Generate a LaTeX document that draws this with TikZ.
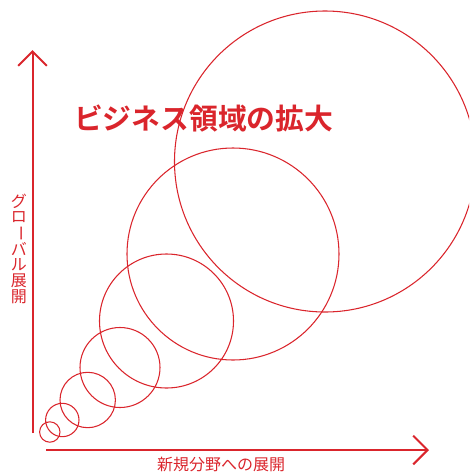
\documentclass[tikz,border=0pt]{standalone}
\usepackage{fontspec}
\newfontfamily\jp{Noto Sans CJK JP}
\newfontfamily\jpb{Noto Sans CJK JP Bold}
\usetikzlibrary{arrows.meta}
\definecolor{rd}{RGB}{218,37,44}
\tikzset{
  axis/.style={draw=rd, line width=1.5pt, -{Straight Barb[length=10.8pt,width=21.6pt,line width=1.5pt]}},
  ring/.style={draw=rd, line width=0.8pt},
  lbl/.style={text=rd, font=\jp\fontsize{12pt}{12pt}\selectfont, inner sep=0pt},
  ttl/.style={text=rd, font=\jpb\fontsize{21.6pt}{21.6pt}\selectfont, inner sep=0pt}
}
\begin{document}
\begin{tikzpicture}[x=0.75pt,y=-0.75pt]
\useasboundingbox (0,0) rectangle (469,472);
\clip (0,0) rectangle (469,472);
% circles
\draw[ring] (325,161.5) circle (150.5);
\draw[ring] (233,254) circle (106);
\draw[ring] (166.5,321) circle (67);
\draw[ring] (120,367.5) circle (40);
\draw[ring] (87.7,400) circle (27.7);
\draw[ring] (62.3,420) circle (16.7);
\draw[ring] (49.8,432) circle (10.2);
% axes
\coordinate (ybot) at (32.5,433);
\coordinate (ytip) at (32.5,50);
\coordinate (xl) at (46,450);
\coordinate (xtip) at (429,450);
\draw[axis] (ybot) -- (ytip);
\draw[axis] (xl) -- (xtip);
% texts
\node[ttl] (title) at (203.7,119) {ビジネス領域の拡大};
\node[lbl] (xlab) at (221,464) {新規分野への展開};
\node[lbl] (v1) at (19,201) {グ};
\node[lbl] (v2) at (19,217) {ロ};
\node[lbl,rotate=-90] (v3) at (19,233) {ー};
\node[lbl] (v4) at (19,249) {バ};
\node[lbl] (v5) at (19,265) {ル};
\node[lbl] (v6) at (19,281) {展};
\node[lbl] (v7) at (19,297) {開};
\end{tikzpicture}
\end{document}
